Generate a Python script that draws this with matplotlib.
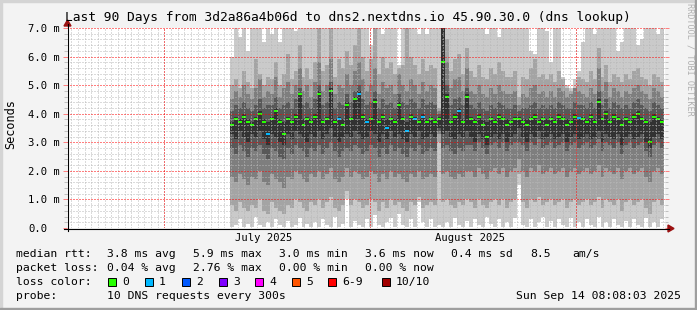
import numpy as np
import matplotlib
matplotlib.use("Agg")
import matplotlib.pyplot as plt
from matplotlib.patches import Rectangle, Polygon
from matplotlib.lines import Line2D
from datetime import datetime, timedelta

plt.rcParams['font.family'] = ['DejaVu Sans Mono']
plt.rcParams['lines.scale_dashes'] = False

# ------------------------------------------------------------------ data
title = "Last 90 Days from 3d2a86a4b06d to dns2.nextdns.io 45.90.30.0 (dns lookup)"
range_end = datetime(2025, 9, 14, 8, 8, 3)
range_days = 90
data_start = datetime(2025, 7, 10, 20, 0)
step_hours = 14.4

median = [3.6, 3.8, 3.7, 3.9, 3.7, 3.6, 3.8, 4.0, 3.7, 3.3,
          3.8, 4.1, 3.7, 3.3, 3.8, 3.7, 3.9, 4.7, 3.6, 3.8,
          3.7, 3.9, 4.7, 3.7, 3.8, 4.8, 3.7, 3.8, 3.6, 4.3,
          3.8, 4.5, 4.7, 3.9, 3.7, 3.8, 4.4, 3.7, 3.9, 3.5,
          3.8, 3.7, 4.3, 3.8, 3.4, 3.9, 3.8, 3.7, 3.9, 3.7,
          3.8, 3.7, 3.8, 5.8, 4.6, 3.7, 3.9, 4.1, 3.7, 4.6,
          3.8, 3.7, 3.9, 3.6, 3.2, 3.8, 3.7, 3.9, 3.8, 3.6,
          3.7, 3.8, 3.8, 3.7, 3.6, 3.8, 3.9, 3.7, 3.8, 3.6,
          3.8, 3.7, 3.9, 3.8, 3.6, 3.7, 3.9, 3.85, 3.8, 3.7,
          3.9, 3.7, 4.4, 3.8, 4.0, 3.7, 3.9, 3.8, 3.6, 3.8,
          3.7, 3.9, 4.0, 3.8, 3.7, 3.0, 3.9, 3.8, 3.7]

loss = [0, 0, 0, 0, 0, 0, 0, 0, 0, 1,
        0, 0, 0, 0, 0, 0, 0, 0, 0, 0,
        0, 0, 0, 0, 0, 0, 0, 1, 0, 0,
        0, 0, 1, 0, 1, 0, 0, 0, 0, 1,
        0, 0, 0, 0, 1, 0, 1, 0, 1, 0,
        0, 0, 0, 0, 0, 0, 0, 1, 0, 0,
        0, 0, 0, 0, 0, 0, 0, 0, 0, 0,
        0, 0, 0, 0, 0, 0, 0, 0, 0, 0,
        0, 0, 0, 0, 0, 0, 0, 1, 0, 0,
        0, 0, 0, 0, 0, 0, 0, 0, 0, 0,
        0, 0, 0, 0, 0, 0, 0, 0, 0]

ping1 = [0.05, 0.1, 0.3, 0.05, 0.15, 0.05, 0.4, 0.1, 0.05, 0.2,
         0.05, 0.3, 0.1, 0.05, 0.25, 0.05, 0.1, 0.35, 0.05, 0.15,
         0.05, 0.2, 0.05, 0.3, 0.1, 0.05, 0.4, 0.05, 0.15, 1.0,
         0.05, 0.25, 0.1, 0.05, 0.3, 0.05, 0.45, 0.1, 0.05, 0.2,
         0.35, 0.05, 0.5, 0.1, 0.05, 0.3, 0.05, 0.9, 0.2, 0.05,
         0.3, 0.05, 0.1, 0.05, 0.2, 0.05, 0.35, 0.1, 0.05, 0.25,
         0.05, 0.3, 0.1, 0.05, 0.4, 0.15, 0.05, 0.3, 0.05, 0.2,
         0.05, 0.35, 1.5, 0.1, 0.05, 0.3, 0.05, 0.2, 0.4, 0.05,
         0.25, 0.05, 0.3, 0.1, 0.05, 0.35, 0.05, 0.2, 0.05, 0.3,
         0.1, 0.05, 0.4, 0.05, 0.2, 0.05, 0.3, 0.1, 0.05, 0.25,
         0.05, 0.3, 0.1, 0.05, 0.35, 0.05, 0.2, 0.05, 0.3]

ping2 = [0.8, 0.6, 0.9, 0.7, 0.6, 0.8, 0.7, 1.0, 0.6, 0.5,
         0.9, 0.7, 0.6, 0.5, 0.8, 0.7, 1.0, 0.9, 0.7, 0.6,
         0.9, 0.8, 1.0, 0.7, 0.9, 1.1, 0.7, 0.6, 0.8, 1.3,
         0.8, 1.0, 0.9, 0.7, 0.8, 1.0, 0.9, 0.6, 0.9, 0.7,
         1.0, 0.8, 0.9, 0.7, 0.6, 0.9, 0.8, 1.1, 0.7, 0.8,
         0.9, 0.8, 3.0, 0.9, 1.0, 0.8, 0.7, 0.9, 0.8, 1.0,
         0.9, 0.7, 1.0, 0.8, 0.7, 0.9, 1.0, 0.8, 1.0, 0.7,
         0.9, 1.0, 1.9, 0.9, 0.7, 1.0, 0.9, 1.1, 0.8, 0.9,
         1.0, 0.8, 0.9, 1.0, 0.7, 0.9, 1.0, 0.8, 0.9, 1.0,
         0.8, 0.9, 1.1, 0.7, 1.0, 0.9, 0.8, 1.0, 0.6, 0.9,
         1.0, 0.8, 0.9, 1.0, 0.7, 0.5, 0.9, 1.0, 0.8]

ping3 = [1.8, 1.6, 1.9, 1.7, 1.5, 1.8, 1.7, 2.0, 1.6, 1.5,
         1.9, 1.7, 1.6, 1.4, 1.8, 1.7, 2.0, 1.9, 1.7, 1.6,
         1.9, 1.8, 2.0, 1.7, 1.9, 2.1, 1.7, 1.6, 1.8, 2.1,
         1.8, 2.0, 1.9, 1.7, 1.8, 2.0, 1.9, 1.6, 1.9, 1.7,
         2.0, 1.8, 1.9, 1.7, 1.6, 1.9, 1.8, 2.0, 1.7, 1.8,
         1.9, 1.8, 3.3, 1.9, 2.0, 1.8, 1.7, 1.9, 1.8, 2.0,
         2.0, 1.8, 2.1, 1.9, 1.7, 2.0, 2.1, 1.9, 2.1, 1.8,
         2.0, 2.1, 2.4, 2.0, 1.8, 2.1, 2.0, 2.2, 1.9, 2.0,
         2.1, 1.9, 2.0, 2.1, 1.8, 2.0, 2.1, 1.9, 2.0, 2.1,
         1.9, 2.0, 2.2, 1.8, 2.1, 2.0, 1.9, 2.1, 1.7, 2.0,
         2.1, 1.9, 2.0, 2.1, 1.8, 1.6, 2.0, 2.1, 1.9]

ping4 = [2.8, 2.6, 2.9, 2.7, 2.5, 2.8, 2.7, 2.9, 2.6, 2.4,
         2.8, 2.7, 2.5, 2.4, 2.8, 2.6, 2.9, 2.8, 2.7, 2.5,
         2.8, 2.7, 2.9, 2.6, 2.8, 3.0, 2.7, 2.5, 2.7, 2.8,
         2.7, 2.9, 2.8, 2.6, 2.7, 2.9, 2.8, 2.5, 2.8, 2.6,
         2.9, 2.7, 2.8, 2.6, 2.5, 2.8, 2.7, 2.9, 2.6, 2.7,
         2.8, 2.7, 3.4, 2.8, 2.9, 2.7, 2.6, 2.8, 2.7, 2.9,
         2.9, 2.7, 3.0, 2.8, 2.6, 2.9, 3.0, 2.8, 3.0, 2.7,
         2.9, 3.0, 3.0, 2.9, 2.7, 3.0, 2.9, 3.1, 2.8, 2.9,
         3.0, 2.8, 2.9, 3.0, 2.7, 2.9, 3.0, 2.8, 2.9, 3.0,
         2.8, 2.9, 3.1, 2.7, 3.0, 2.9, 2.8, 3.0, 2.6, 2.9,
         3.0, 2.8, 2.9, 3.0, 2.7, 2.5, 2.9, 3.0, 2.8]

ping5 = [3.3, 3.1, 3.4, 3.2, 3.0, 3.3, 3.2, 3.4, 3.1, 2.9,
         3.3, 3.2, 3.0, 2.9, 3.3, 3.1, 3.4, 3.3, 3.2, 3.0,
         3.3, 3.2, 3.4, 3.1, 3.3, 3.5, 3.2, 3.0, 3.2, 3.3,
         3.2, 3.4, 3.3, 3.1, 3.2, 3.4, 3.3, 3.0, 3.3, 3.1,
         3.4, 3.2, 3.3, 3.1, 3.0, 3.3, 3.2, 3.4, 3.1, 3.2,
         3.3, 3.2, 3.5, 3.3, 3.4, 3.2, 3.1, 3.3, 3.2, 3.4,
         3.2, 3.0, 3.3, 3.1, 2.9, 3.2, 3.3, 3.1, 3.3, 3.0,
         3.2, 3.3, 3.5, 3.2, 3.0, 3.3, 3.2, 3.4, 3.1, 3.2,
         3.3, 3.1, 3.2, 3.3, 3.0, 3.2, 3.3, 3.1, 3.2, 3.3,
         3.1, 3.2, 3.4, 3.0, 3.3, 3.2, 3.1, 3.3, 2.9, 3.2,
         3.3, 3.1, 3.2, 3.3, 3.0, 2.8, 3.2, 3.3, 3.1]

ping6 = [3.7, 3.9, 3.8, 4.0, 3.8, 3.7, 3.9, 4.1, 3.8, 3.7,
         3.9, 4.2, 3.8, 3.7, 3.9, 3.8, 4.0, 4.7, 3.8, 3.9,
         3.8, 4.0, 4.8, 3.8, 3.9, 4.9, 3.8, 3.9, 3.8, 4.4,
         3.9, 4.6, 4.8, 4.0, 3.8, 3.9, 4.5, 3.8, 4.0, 3.8,
         3.9, 3.8, 4.4, 3.9, 3.7, 4.0, 3.9, 3.8, 4.0, 3.8,
         3.9, 3.8, 3.9, 7.5, 4.7, 3.8, 4.0, 4.2, 3.8, 4.7,
         3.9, 3.8, 4.0, 3.8, 3.7, 3.9, 3.8, 4.0, 3.9, 3.8,
         3.8, 3.9, 3.9, 3.8, 3.8, 3.9, 4.0, 3.8, 3.9, 3.8,
         3.9, 3.8, 4.0, 3.9, 3.8, 3.8, 4.0, 3.9, 3.9, 3.8,
         4.0, 3.8, 4.5, 3.9, 4.1, 3.8, 4.0, 3.9, 3.8, 3.9,
         3.8, 4.0, 4.1, 3.9, 3.8, 3.7, 4.0, 3.9, 3.8]

ping7 = [4.1, 4.3, 4.2, 4.4, 4.2, 4.1, 4.3, 4.5, 4.2, 4.3,
         4.3, 4.6, 4.2, 4.3, 4.4, 4.2, 4.5, 4.9, 4.3, 4.4,
         4.2, 4.5, 5.0, 4.3, 4.4, 5.1, 4.2, 4.4, 4.3, 4.7,
         4.4, 4.8, 5.0, 4.5, 4.3, 4.4, 4.8, 4.2, 4.5, 4.3,
         4.4, 4.2, 4.7, 4.4, 4.3, 4.5, 4.4, 4.2, 4.5, 4.3,
         4.4, 4.3, 4.0, 7.5, 5.0, 4.3, 4.5, 4.6, 4.3, 4.9,
         4.3, 4.2, 4.4, 4.2, 4.1, 4.3, 4.2, 4.4, 4.3, 4.2,
         4.2, 4.3, 4.1, 4.2, 4.2, 4.3, 4.4, 4.2, 4.3, 4.2,
         4.3, 4.2, 4.4, 4.3, 4.2, 4.2, 4.4, 4.3, 4.3, 4.2,
         4.4, 4.2, 4.8, 4.3, 4.5, 4.2, 4.4, 4.3, 4.2, 4.3,
         4.2, 4.4, 4.5, 4.3, 4.2, 4.1, 4.4, 4.3, 4.2]

ping8 = [4.5, 4.8, 4.6, 5.0, 4.7, 4.5, 4.9, 5.2, 4.6, 4.8,
         4.7, 5.3, 4.6, 4.9, 5.1, 4.7, 5.0, 5.6, 4.8, 5.0,
         4.6, 5.1, 5.8, 4.8, 5.0, 5.9, 4.7, 5.0, 4.9, 5.4,
         5.0, 5.5, 5.8, 5.2, 4.8, 5.0, 5.6, 4.7, 5.1, 4.9,
         5.0, 4.7, 5.4, 5.0, 4.8, 5.2, 5.0, 4.7, 5.1, 4.8,
         5.0, 4.9, 4.1, 7.5, 5.8, 4.9, 5.2, 5.3, 4.8, 5.6,
         4.8, 4.7, 5.0, 4.7, 4.6, 4.9, 4.7, 5.0, 4.8, 4.7,
         4.7, 4.8, 4.3, 4.7, 4.6, 4.9, 5.0, 4.7, 4.8, 4.6,
         4.8, 4.6, 4.9, 4.8, 4.6, 4.7, 4.9, 4.8, 4.7, 4.6,
         4.9, 4.7, 5.6, 4.8, 5.1, 4.6, 4.9, 4.8, 4.6, 4.8,
         4.7, 4.9, 5.0, 4.8, 4.7, 4.5, 4.9, 4.8, 4.6]

ping9 = [5.0, 5.2, 4.9, 5.5, 5.1, 4.9, 5.9, 5.4, 5.0, 5.3,
         5.2, 5.8, 5.0, 5.4, 6.1, 5.2, 5.5, 6.4, 5.3, 5.6,
         5.2, 5.8, 7.5, 5.5, 5.7, 7.5, 5.3, 5.9, 5.6, 6.2,
         5.7, 6.4, 7.5, 6.0, 5.5, 5.9, 7.5, 5.4, 6.0, 5.6,
         5.8, 5.4, 5.6, 5.7, 7.5, 6.0, 5.7, 5.4, 5.9, 5.5,
         5.7, 5.6, 4.2, 7.5, 6.6, 5.5, 5.9, 6.1, 5.4, 6.3,
         5.5, 5.3, 5.7, 5.3, 5.2, 5.6, 5.4, 5.8, 5.5, 5.3,
         5.3, 5.5, 4.6, 5.3, 5.2, 5.6, 5.9, 5.3, 5.4, 5.2,
         5.4, 5.1, 5.5, 5.2, 4.9, 4.8, 4.9, 5.3, 5.2, 5.1,
         5.5, 5.2, 6.3, 5.3, 5.7, 5.1, 5.4, 5.3, 5.1, 5.4,
         5.2, 5.5, 5.6, 5.3, 5.2, 5.0, 5.4, 5.3, 5.1]

ping10 = [6.0, 7.5, 6.7, 7.5, 6.2, 7.5, 7.5, 7.5, 6.5, 7.5,
          6.8, 7.5, 6.5, 7.5, 7.5, 7.5, 6.9, 7.5, 7.5, 7.5,
          7.5, 7.5, 7.5, 7.5, 7.5, 7.5, 7.5, 7.5, 7.5, 7.5,
          7.5, 7.5, 7.5, 7.5, 7.5, 6.4, 7.5, 7.5, 6.8, 7.5,
          7.5, 7.5, 5.7, 7.5, 7.5, 7.5, 7.5, 6.8, 7.5, 6.8,
          7.5, 7.5, 7.5, 7.5, 7.5, 7.5, 7.5, 7.5, 7.5, 7.5,
          7.5, 7.5, 7.5, 7.5, 6.8, 7.5, 7.5, 6.7, 7.5, 7.5,
          7.5, 7.5, 7.5, 7.5, 7.5, 6.2, 6.1, 7.5, 7.5, 6.9,
          5.8, 7.5, 7.5, 5.3, 5.0, 4.9, 5.2, 5.5, 6.5, 7.5,
          7.5, 6.8, 7.5, 7.5, 7.5, 7.5, 7.5, 6.2, 6.5, 7.5,
          7.5, 7.5, 6.4, 6.6, 7.5, 7.5, 7.5, 6.8, 7.5]

y_tick_values = [0, 1, 2, 3, 4, 5, 6, 7]
y_tick_labels = ['0.0', '1.0 m', '2.0 m', '3.0 m', '4.0 m', '5.0 m', '6.0 m', '7.0 m']
month_starts = [datetime(2025, 7, 1), datetime(2025, 8, 1), datetime(2025, 9, 1)]
x_label_dates = [datetime(2025, 7, 16), datetime(2025, 8, 16)]
x_labels = ['July 2025', 'August 2025']

loss_labels = ['0', '1', '2', '3', '4', '5', '6-9', '10/10']
loss_colors = ['#26ff00', '#00b8ff', '#0059ff', '#7e00ff', '#ff00ff', '#ff5500', '#ff0000', '#a10000']
smoke_colors = ['#cacaca', '#a4a4a4', '#7e7e7e', '#585858', '#323232']

rtt_stats = ['3.8 ms avg', '5.9 ms max', '3.0 ms min', '3.6 ms now', '0.4 ms sd', '8.5', 'am/s']
loss_stats = ['0.04 % avg', '2.76 % max', '0.00 % min', '0.00 % now']
probe_text = '10 DNS requests every 300s'
date_text = 'Sun Sep 14 08:08:03 2025'

# ------------------------------------------------------------------ figure
W, H = 697, 310
def fx(x): return x / W
def fy(y): return 1 - y / H

fig = plt.figure(figsize=(W / 100, H / 100), dpi=100, facecolor='#f3f3f3')
ax = fig.add_axes([fx(67), fy(228), 598 / W, 200 / H])
ax.set_facecolor('white')

range_start = range_end - timedelta(days=range_days)
def dnum(d):
    return (d - range_start).total_seconds() / 86400.0

step = step_hours / 24.0
xs = dnum(data_start) + np.arange(len(median)) * step

pings = [ping1, ping2, ping3, ping4, ping5, ping6, ping7, ping8, ping9, ping10]
for k, col in enumerate(smoke_colors):
    lo = np.array(pings[k])
    hi = np.array(pings[9 - k])
    ax.bar(xs, hi - lo, bottom=lo, width=step, align='edge', color=col,
           linewidth=0, antialiased=False, zorder=1)

med = np.array(median)
mcols = [loss_colors[min(l, 7)] for l in loss]
ax.bar(xs, 0.07, bottom=med - 0.035, width=step, align='edge', color=mcols,
       linewidth=0, antialiased=False, zorder=2)

ax.set_xlim(0, range_days)
ax.set_ylim(0, 7)

# ticks
ax.set_yticks(y_tick_values)
ax.set_yticklabels(y_tick_labels)
ax.set_yticks([v / 5 for v in range(36) if v % 5], minor=True)
ax.set_xticks([dnum(d) for d in x_label_dates])
ax.set_xticklabels(x_labels)
day0 = datetime(2025, 6, 17)
ax.set_xticks([dnum(day0 + timedelta(days=k)) for k in range(90)], minor=True)

ax.tick_params(axis='y', which='major', direction='out', length=3, width=0.72,
               color='#ff8080', left=True, right=True, labelsize=7.6, pad=25.0)
ax.tick_params(axis='y', which='minor', direction='out', length=2, width=0.72,
               color='#c0c0c0', left=True, right=True)
ax.tick_params(axis='x', which='major', length=0, labelsize=7.6, pad=3.8)
ax.tick_params(axis='x', which='minor', length=0)
for t in ax.get_yticklabels():
    t.set_horizontalalignment('left')

dots = (0, (1.44, 1.44))
ax.set_axisbelow(False)
ax.grid(which='major', axis='y', color='#ff0000', alpha=0.5,
        linestyle=dots, linewidth=0.72, antialiased=False)
ax.grid(which='minor', axis='both', color='#b8b8b8', alpha=0.5,
        linestyle=dots, linewidth=0.72, antialiased=False)
ax.vlines([dnum(d) for d in month_starts], 0, 7, colors='#ff0000', alpha=0.5,
          linestyles=[dots], linewidth=0.72, zorder=2.6, antialiased=False)

for s in ax.spines.values():
    s.set_visible(False)

# axis lines and arrows
fig.add_artist(Line2D([fx(64), fx(669)], [fy(228.5), fy(228.5)], color='black',
                      linewidth=0.8, transform=fig.transFigure))
fig.add_artist(Line2D([fx(67.5), fx(67.5)], [fy(231), fy(24)], color='black',
                      linewidth=0.8, transform=fig.transFigure))
fig.add_artist(Polygon([[fx(668), fy(225)], [fx(668), fy(232)], [fx(674), fy(228.5)]],
                       closed=True, color='#9b1010', transform=fig.transFigure))
fig.add_artist(Polygon([[fx(64), fy(26)], [fx(71), fy(26)], [fx(67.5), fy(20)]],
                       closed=True, color='#9b1010', transform=fig.transFigure))

# frame
fig.add_artist(Rectangle((0, fy(2)), 1, 2 / H, color='#d4d4d4', transform=fig.transFigure))
fig.add_artist(Rectangle((0, 0), 2 / W, 1, color='#d4d4d4', transform=fig.transFigure))
fig.add_artist(Rectangle((0, 0), 1, 2 / H, color='#9e9e9e', transform=fig.transFigure))
fig.add_artist(Rectangle((fx(695), 0), 2 / W, 1, color='#9e9e9e', transform=fig.transFigure))

# texts
fig.text(fx(348), fy(18), title, ha='center', va='center', fontsize=9.3)
fig.text(fx(11), fy(124), 'Seconds', rotation=90, ha='center', va='center', fontsize=8.6)
fig.text(fx(690), fy(59), 'RRDTOOL / TOBI OETIKER', rotation=-90, ha='center',
         va='center', fontsize=6.1, color='#b0b0b0')

lfs = 8.2
fig.text(fx(16), fy(254), 'median rtt:', ha='left', va='center', fontsize=lfs)
for xp, s in zip([107, 193, 279, 365, 451, 530, 572], rtt_stats):
    fig.text(fx(xp), fy(254), s, ha='left', va='center', fontsize=lfs)
fig.text(fx(16), fy(268), 'packet loss:', ha='left', va='center', fontsize=lfs)
for xp, s in zip([107, 193, 279, 365], loss_stats):
    fig.text(fx(xp), fy(268), s, ha='left', va='center', fontsize=lfs)
fig.text(fx(16), fy(282), 'loss color:', ha='left', va='center', fontsize=lfs)
box_x = [108, 145, 182, 219, 255, 292, 328, 382]
for bx, lab, col in zip(box_x, loss_labels, loss_colors):
    fig.add_artist(Rectangle((fx(bx), fy(286)), 8 / W, 8 / H, facecolor=col,
                             edgecolor='black', linewidth=0.7, transform=fig.transFigure))
    fig.text(fx(bx + 14), fy(282), lab, ha='left', va='center', fontsize=lfs)
fig.text(fx(16), fy(296), 'probe:', ha='left', va='center', fontsize=lfs)
fig.text(fx(107), fy(296), probe_text, ha='left', va='center', fontsize=lfs)
fig.text(fx(681), fy(296), date_text, ha='right', va='center', fontsize=lfs)

fig.savefig('out.png', dpi=100, facecolor=fig.get_facecolor())
